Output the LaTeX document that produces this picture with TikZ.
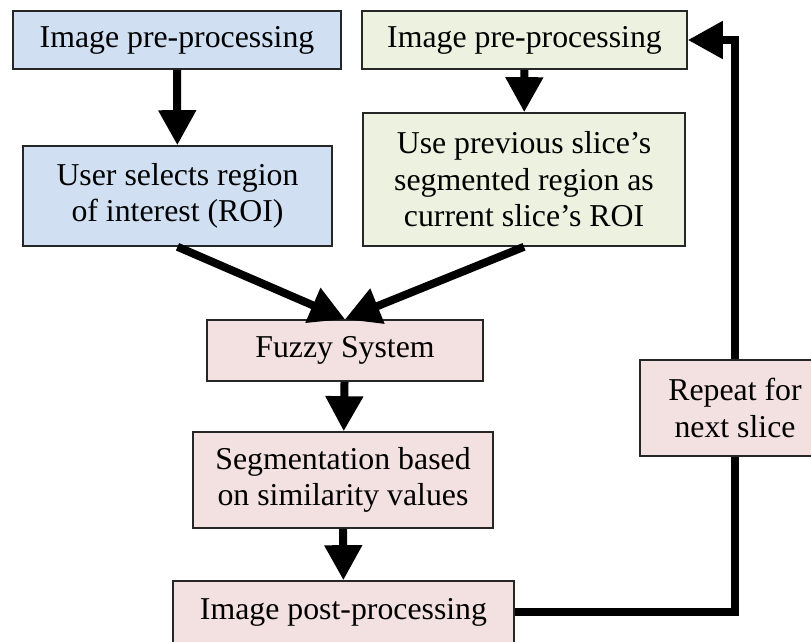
\documentclass[tikz,border=0pt]{standalone}
\usepackage{fontspec}
\setmainfont{Liberation Serif}
\usetikzlibrary{arrows.meta}
\definecolor{boxblue}{RGB}{209,223,243}
\definecolor{boxgreen}{RGB}{236,241,224}
\definecolor{boxpink}{RGB}{243,224,224}
\begin{document}
\begin{tikzpicture}[x=1pt,y=-1pt,
  stage/.style={draw=black!85, line width=1.6pt, rectangle, inner sep=0pt,
    align=center, font=\fontsize{31.8}{36.5}\selectfont},
  flow/.style={line width=8pt, -{Triangle[width=36pt,length=35pt]}},
  link/.style={line width=8pt}]
\useasboundingbox (0,0) rectangle (811,642);
% left column: first slice
\node[stage, fill=boxblue, minimum width=328pt, minimum height=58pt] (pre1) at (177,40) {Image pre-processing};
\node[stage, fill=boxblue, minimum width=309pt, minimum height=100pt] (roi1) at (177.5,196) {User selects region\\of interest (ROI)};
% right column: following slices
\node[stage, fill=boxgreen, minimum width=325pt, minimum height=58pt] (pre2) at (524.5,40) {Image pre-processing};
\node[stage, fill=boxgreen, minimum width=322pt, minimum height=133pt] (roi2) at (524,179.5) {Use previous slice’s\\segmented region as\\current slice’s ROI};
% common steps
\node[stage, fill=boxpink, minimum width=276pt, minimum height=61pt] (fuzzy) at (345,350.5) {Fuzzy System};
\node[stage, fill=boxpink, minimum width=300pt, minimum height=96pt] (seg) at (343,480) {Segmentation based\\on similarity values};
\node[stage, fill=boxpink, minimum width=341pt, minimum height=62pt] (post) at (343.5,612) {Image post-processing};
\node[stage, fill=boxpink, minimum width=190pt, minimum height=96pt] (rep) at (735,408) {Repeat for\\next slice};
% connectors
\draw[flow] (pre1) -- (roi1);
\draw[flow] (pre2) -- (roi2);
\draw[flow] (roi1.south) -- (fuzzy.north);
\draw[flow] (roi2.south) -- (fuzzy.north);
\draw[flow] (fuzzy) -- (seg);
\draw[flow] (seg) -- (post);
\draw[link] (post.east) -- (rep.south |- post.east) -- (rep.south);
\draw[flow] (rep.north) -- (rep.north |- pre2.east) -- (pre2.east);
\end{tikzpicture}
\end{document}
